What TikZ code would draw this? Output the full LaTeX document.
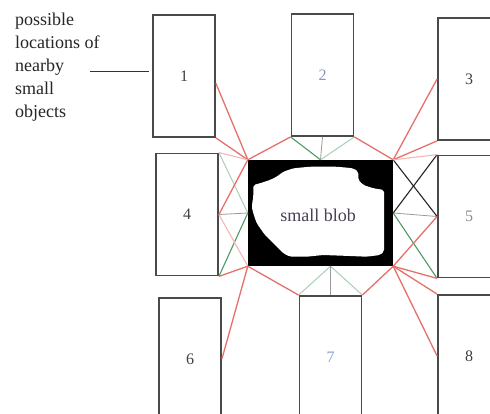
\documentclass[tikz,border=0pt]{standalone}
\usepackage{fontspec}
\setmainfont{Liberation Serif}
\usetikzlibrary{calc}

\definecolor{boxgray}{HTML}{4A4A4A}
\definecolor{linkred}{HTML}{E6706C}
\definecolor{linkgreen}{HTML}{4F9A64}
\definecolor{palegreen}{HTML}{A8D0B4}
\definecolor{lightred}{HTML}{F2B8B4}
\definecolor{linkgray}{HTML}{9A9A9A}
\definecolor{numblue}{HTML}{8CA0D8}
\definecolor{blobtext}{HTML}{4A3F55}

\tikzset{
  objbox/.style={draw=boxgray, line width=1.8pt, minimum width=62pt,
    minimum height=122pt, inner sep=0pt, text=black!75,
    font=\fontsize{16}{16}\selectfont},
  redlink/.style={linkred, line width=1.3pt},
  fadedred/.style={lightred, line width=1.1pt},
  greenlink/.style={linkgreen, line width=1.1pt},
  palelink/.style={palegreen, line width=1pt},
  graylink/.style={linkgray, line width=0.8pt},
  darklink/.style={black!85, line width=1.1pt},
}

\begin{document}
\begin{tikzpicture}[x=1pt, y=-1pt]
  \useasboundingbox (0,0) rectangle (490,414);
  \clip (0,0) rectangle (490,414);
  \fill[white] (0,0) rectangle (490,414);

  %% 説明
  \node[anchor=north west, align=left, inner sep=0pt, text=black!85,
    font=\fontsize{18}{23}\selectfont] (caption) at (15,13)
    {possible\\locations of\\nearby\\small\\objects};

  %% 周りの物体の位置
  \node[objbox] (box1) at (184,76) {1};
  \node[objbox, text=numblue!70!gray] (box2) at (322.5,75) {2};
  \node[objbox] (box3) at (469,79) {3};
  \node[objbox] (box4) at (187,214.5) {4};
  \node[objbox, text=black!45] (box5) at (469,216.5) {5};
  \node[objbox] (box6) at (190,359) {6};
  \node[objbox, text=numblue] (box7) at (330.5,357) {7};
  \node[objbox] (box8) at (469,356) {8};

  %% 説明の引き出し線
  \coordinate (lbl) at (90,71);
  \draw[black!80, line width=0.8pt] (lbl) -- ($(lbl -| box1.west)+(-3,0)$);

  %% 小さいブロブ
  \node[fill=black, minimum width=145pt, minimum height=106pt,
    inner sep=0pt] (blob) at (320.5,213) {};
  \fill[white, rounded corners=2pt]
    (253.3,185) -- (260,183.3) -- (270,180) -- (276.7,176.7)
    -- (283.3,171.7) -- (293.3,168.3) -- (310,166.7) -- (336.7,166.7)
    -- (353.3,168.3) -- (358.3,171.7) -- (358.3,180) -- (363.3,185)
    -- (373.3,188.3) -- (384,190) -- (384,251.7) -- (380,255)
    -- (366.7,256.7) -- (350,256) -- (323.3,255) -- (306.7,256.7)
    -- (290,256.7) -- (283.3,253.3) -- (273.3,243.3) -- (265,235)
    -- (256.7,223.3) -- (253.3,213.3) -- (251.7,206.7) -- (253.3,196.7)
    -- cycle;
  \node[text=blobtext, font=\fontsize{18}{18}\selectfont] (blobname)
    at (318,215) {small blob};

  %% 上下左右の隙間（緑・灰）
  \draw[greenlink] (box2.south west) -- (blob.north);
  \draw[palelink] (box2.south east) -- (blob.north);
  \draw[graylink] (box2.south) -- (blob.north);

  \coordinate (bmid) at (box7.north |- blob.south);
  \draw[palelink] (box7.north west) -- (bmid);
  \draw[palelink] (box7.north east) -- (bmid);
  \draw[graylink] (box7.north) -- (bmid);

  \draw[palelink] (box4.north east) -- (blob.west);
  \draw[greenlink] (box4.south east) -- (blob.west);
  \draw[graylink] (box4.east) -- (blob.west);

  \draw[graylink] (blob.east) -- (box5.west);
  \draw[darklink] (blob.north east) -- (box5.west);
  \draw[darklink] (blob.east) -- (box5.north west);
  \draw[greenlink] (blob.east) -- (box5.south west);

  %% 角からの赤線
  \draw[redlink] (blob.north west) -- (box1.-13);
  \draw[redlink] (blob.north west) -- (box1.south east);
  \draw[redlink] (blob.north west) -- (box2.south west);
  \draw[fadedred] (blob.north west) -- (box4.north east);
  \draw[redlink] (blob.north west) -- (box4.east);

  \draw[fadedred] (blob.south west) -- (box4.east);
  \draw[redlink] (blob.south west) -- (box4.south east);
  \draw[redlink] (blob.south west) -- (box6.east);
  \draw[redlink] (blob.south west) -- (box7.north west);

  \draw[redlink] (blob.north east) -- (box2.south east);
  \draw[redlink] (blob.north east) -- (box3.west);
  \draw[redlink] (blob.north east) -- (box3.south west);
  \draw[fadedred] (blob.north east) -- (box5.north west);

  \draw[redlink] (blob.south east) -- (box7.north east);
  \draw[redlink] (blob.south east) -- (box5.west);
  \draw[redlink] (blob.south east) -- (box5.south west);
  \draw[redlink] (blob.south east) -- (box8.north west);
  \draw[redlink] (blob.south east) -- (box8.west);
\end{tikzpicture}
\end{document}
